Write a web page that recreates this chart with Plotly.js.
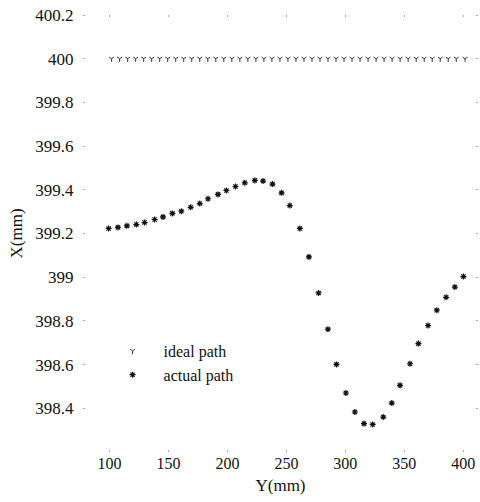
<!DOCTYPE html>
<html>
<head>
<meta charset="utf-8">
<script src="https://cdn.plot.ly/plotly-3.0.1.min.js"></script>
<style>html,body{margin:0;padding:0;background:#fff;}#chart{width:480px;height:502px;}</style>
</head>
<body>
<div id="chart"></div>
<script>
// Actual path (Y in mm, X in mm)
var actualY = [99.2, 107.1, 114.7, 122.7, 129.7, 138.2, 145.3, 153.3, 160.9, 168.8,
               176.5, 183.5, 192.0, 199.1, 206.8, 214.7, 223.2, 230.2, 238.2, 245.9,
               252.9, 261.4, 269.1, 277.3, 285.2, 292.5, 300.5, 308.1, 315.8, 323.2,
               332.2, 339.4, 346.4, 354.9, 362.0, 370.2, 377.6, 385.5, 392.9, 400.2];
var actualX = [399.223, 399.228, 399.235, 399.241, 399.250, 399.264, 399.276, 399.292, 399.302, 399.320,
               399.337, 399.359, 399.379, 399.397, 399.415, 399.432, 399.443, 399.440, 399.426, 399.386,
               399.328, 399.223, 399.093, 398.928, 398.762, 398.601, 398.470, 398.383, 398.330, 398.326,
               398.360, 398.424, 398.505, 398.604, 398.696, 398.779, 398.849, 398.908, 398.955, 399.003];
// Ideal path
var idealY = [101.7, 108.5, 115.3, 122.1, 128.9, 135.7, 142.5, 149.3, 156.1, 162.9,
              169.7, 176.5, 183.3, 190.1, 196.9, 203.7, 210.5, 217.3, 224.1, 230.9,
              237.7, 244.5, 251.3, 258.1, 264.9, 271.7, 278.5, 285.3, 292.1, 298.9,
              305.7, 312.5, 319.3, 326.1, 332.9, 339.7, 346.5, 353.3, 360.1, 366.9,
              373.7, 380.5, 387.3, 394.1, 401.6];
var idealX = [400, 400, 400, 400, 400, 400, 400, 400, 400, 400,
              400, 400, 400, 400, 400, 400, 400, 400, 400, 400,
              400, 400, 400, 400, 400, 400, 400, 400, 400, 400,
              400, 400, 400, 400, 400, 400, 400, 400, 400, 400,
              400, 400, 400, 400, 400];
var xTicks = [100, 150, 200, 250, 300, 350, 400];
var yTicks = [398.4, 398.6, 398.8, 399, 399.2, 399.4, 399.6, 399.8, 400, 400.2];
var yTickText = ['398.4', '398.6', '398.8', '399', '399.2', '399.4', '399.6', '399.8', '400', '400.2'];

var serif = '"Liberation Serif", "DejaVu Serif", serif';
var traces = [
  {x: idealY, y: idealX, mode: 'markers', type: 'scatter', name: 'ideal path',
   marker: {symbol: 'y-down-open', size: 4, color: '#333', line: {width: 1, color: '#333'}}},
  {x: actualY, y: actualX, mode: 'markers', type: 'scatter', name: 'actual path',
   marker: {symbol: 'asterisk-open', size: 5, color: '#111', line: {width: 1.2, color: '#111'}}}
];
var layout = {
  width: 480, height: 502,
  margin: {l: 86, r: 5, t: 15, b: 50},
  paper_bgcolor: '#fff', plot_bgcolor: '#fff',
  font: {family: serif, color: '#111', size: 15},
  showlegend: true,
  legend: {x: 0.04, y: 0.27, xanchor: 'left', yanchor: 'top',
           bgcolor: 'rgba(255,255,255,0)', bordercolor: '#eeeeee', borderwidth: 0,
           font: {family: serif, size: 16, color: '#111'}, itemwidth: 52, tracegroupgap: 0},
  xaxis: {range: [80, 410], tickvals: xTicks, ticktext: xTicks.map(String),
          showgrid: false, zeroline: false, showline: false,
          ticks: 'inside', ticklen: 2, tickcolor: '#aaa', mirror: 'ticks',
          tickfont: {family: serif, size: 16, color: '#111'},
          title: {text: 'Y(mm)', font: {family: serif, size: 17, color: '#111'}, standoff: 8}},
  yaxis: {range: [398.2, 400.2], tickvals: yTicks, ticktext: yTickText,
          showgrid: false, zeroline: false, showline: false,
          ticks: 'outside', ticklen: 2, tickcolor: '#aaa', mirror: 'ticks',
          tickfont: {family: serif, size: 17, color: '#111'}, ticklabelstandoff: 6,
          title: {text: 'X(mm)', font: {family: serif, size: 17, color: '#111'}, standoff: 8}}
};
Plotly.newPlot('chart', traces, layout, {displayModeBar: false, staticPlot: true});
</script>
</body>
</html>
